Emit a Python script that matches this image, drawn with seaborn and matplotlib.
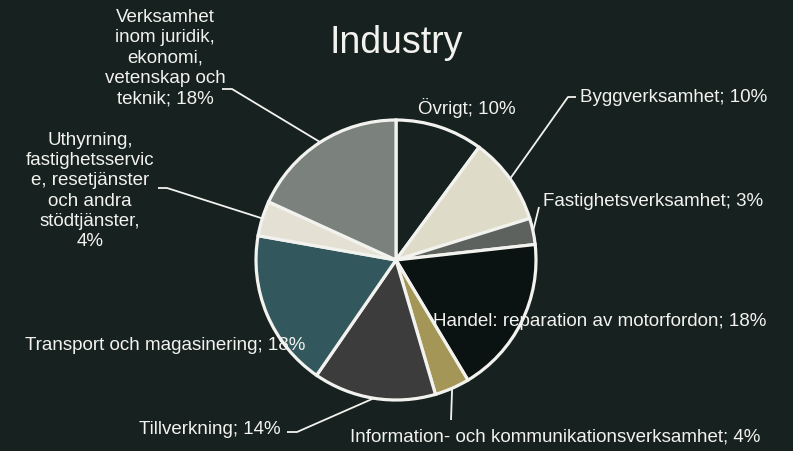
import matplotlib
matplotlib.use("Agg")
import matplotlib.pyplot as plt
import seaborn as sns
import numpy as np

# Industry breakdown (percent)
categories = [
    "Övrigt",
    "Byggverksamhet",
    "Fastighetsverksamhet",
    "Handel: reparation av motorfordon",
    "Information- och kommunikationsverksamhet",
    "Tillverkning",
    "Transport och magasinering",
    "Uthyrning,\nfastighetsservic\ne, resetjänster\noch andra\nstödtjänster,",
    "Verksamhet\ninom juridik,\nekonomi,\nvetenskap och\nteknik;",
]
shares = [10, 10, 3, 18, 4, 14, 18, 4, 18]

BG = "#162120"
FG = "#f2f2ee"
palette = ["#162120", "#dfdbc9", "#5e625e", "#0b1312", "#a39656",
           "#3b3c3b", "#32575c", "#e4e1d4", "#7b817c"]

sns.set_theme(style="white")
plt.rcParams["font.family"] = ["Liberation Sans", "DejaVu Sans"]

W, H = 793, 451
fig = plt.figure(figsize=(W / 100, H / 100), dpi=100, facecolor=BG)
ax = fig.add_axes([0, 0, 1, 1])
ax.set_facecolor(BG)


def px(x, y):
    """Pixel position measured from the top-left corner -> data coords."""
    return (x, H - y)


center = px(396, 260)
radius = 140
wedges, _ = ax.pie(
    shares, colors=palette, startangle=90, counterclock=False,
    radius=radius, center=center, frame=True,
    wedgeprops=dict(edgecolor=FG, linewidth=2.3),
)
ax.set_xlim(0, W)
ax.set_ylim(0, H)
ax.set_aspect("equal")
ax.axis("off")


def rim(w):
    mid = np.deg2rad((w.theta1 + w.theta2) / 2)
    return (center[0] + radius * np.cos(mid), center[1] + radius * np.sin(mid))


def label_text(i):
    name = categories[i]
    if name.endswith(","):
        return f"{name}\n{shares[i]}%"
    if name.endswith(";"):
        return f"{name} {shares[i]}%"
    return f"{name}; {shares[i]}%"


FS = 13.5
LS = 1.25

# label placement: (anchor x, anchor y, ha, elbow points for leader line or None)
layout = [
    (467, 108, "center", None),
    (580, 97, "left", [(568, 97), (576, 97)]),
    (543, 201, "left", [(539, 207)]),
    (600, 321, "center", None),
    (555, 437, "center", [(451, 420)]),
    (281, 430, "right", [(297, 432), (287, 432)]),
    (165, 345, "center", None),
    (90, 191, "center", [(167, 188), (158, 188)]),
    (165, 58, "center", [(232, 89), (222, 89)]),
]

for i, (x, y, ha, path) in enumerate(layout):
    ax.text(*px(x, y), label_text(i), ha=ha, va="center", color=FG,
            fontsize=FS, linespacing=LS, multialignment="center", zorder=5)
    if path:
        pts = [rim(wedges[i])] + [px(*p) for p in path]
        xs, ys = zip(*pts)
        ax.plot(xs, ys, color=FG, lw=1.3, solid_capstyle="butt", zorder=4)

ax.text(*px(396, 43), "Industry", ha="center", va="center", color=FG,
        fontsize=27)

fig.savefig("out.png", dpi=100, facecolor=BG)
